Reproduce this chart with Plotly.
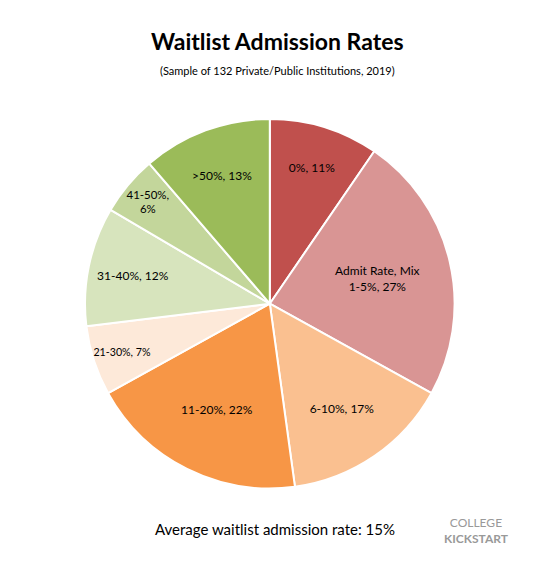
import plotly.graph_objects as go

labels = ["0%", "1-5%", "6-10%", "11-20%", "21-30%", "31-40%", "41-50%", ">50%"]
shares = [11, 27, 17, 22, 7, 12, 6, 13]
texts = ["0%, 11%", "Admit Rate, Mix<br>1-5%, 27%", "6-10%, 17%", "11-20%, 22%",
         "21-30%, 7%", "31-40%, 12%", "41-50%,<br>6%", ">50%, 13%"]
colors = ["#c0504d", "#d99594", "#fac090", "#f79646",
          "#fde9d9", "#d7e4bd", "#c3d69b", "#9bbb59"]

fig = go.Figure(go.Pie(
    labels=labels, values=shares, text=texts, textinfo="text",
    sort=False, direction="clockwise", rotation=0,
    textposition="inside", insidetextorientation="horizontal",
    marker=dict(colors=colors, line=dict(color="white", width=2)),
    textfont=dict(family="Lato", size=12, color="black"),
    domain=dict(x=[0.140, 0.812], y=[0.152, 0.805]),
    showlegend=False, hoverinfo="label+value",
))

fig.update_layout(
    width=550, height=567, margin=dict(l=0, r=0, t=0, b=0),
    paper_bgcolor="white", plot_bgcolor="white",
    annotations=[
        dict(text="<b>Waitlist Admission Rates</b>", x=0.49, y=1 - 33/567,
             xref="paper", yref="paper", showarrow=False, yanchor="middle",
             font=dict(family="Lato", size=23, color="black")),
        dict(text="(Sample of 132 Private/Public Institutions, 2019)", x=0.49, y=1 - 62/567,
             xref="paper", yref="paper", showarrow=False, yanchor="middle",
             font=dict(family="Lato", size=11, color="black")),
        dict(text="Average waitlist admission rate: 15%", x=0.485, y=1 - 521/567,
             xref="paper", yref="paper", showarrow=False, yanchor="middle",
             font=dict(family="Lato", size=15, color="black")),
        dict(text="COLLEGE<br><b>KICKSTART</b>", x=0.915, y=1 - 540/567,
             xref="paper", yref="paper", showarrow=False,
             font=dict(family="Lato", size=12, color="#999999")),
    ],
)

fig.write_html("out.html")
